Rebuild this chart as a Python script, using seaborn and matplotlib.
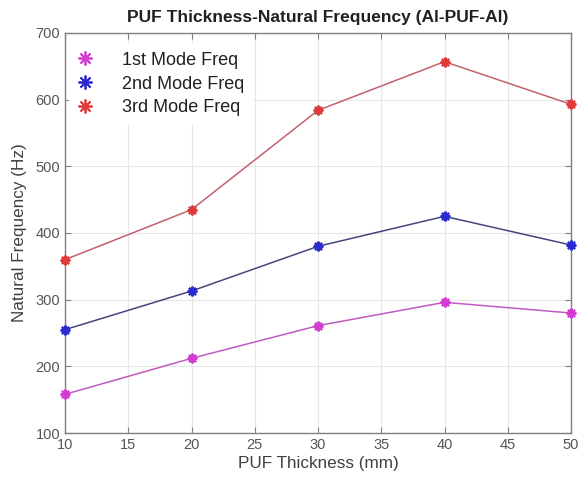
import numpy as np
import pandas as pd
import matplotlib
matplotlib.use("Agg")
import matplotlib.pyplot as plt
from matplotlib.lines import Line2D
import seaborn as sns

thickness = [10, 20, 30, 40, 50]
mode1 = [158, 212, 261, 296, 280]
mode2 = [255, 313, 380, 425, 382]
mode3 = [360, 435, 584, 657, 593]
series_names = ["1st Mode Freq", "2nd Mode Freq", "3rd Mode Freq"]
colors = ["#d23cd2", "#2a2ad0", "#e03a3a"]
line_colors = ["#c05ac0", "#46467e", "#c4606c"]

df = pd.DataFrame({
    "PUF Thickness (mm)": thickness * 3,
    "Natural Frequency (Hz)": mode1 + mode2 + mode3,
    "Mode": [n for n in series_names for _ in thickness],
})

sns.set_style("ticks")
plt.rcParams["font.family"] = ["Liberation Sans", "DejaVu Sans"]

# asterisk marker (plus + cross), 8 spokes
asterisk = (8, 2, 0)

fig = plt.figure(figsize=(5.81, 4.86), dpi=100)
ax = fig.add_axes([65 / 581, 1 - 433 / 486, 506 / 581, 400 / 486])

sns.lineplot(data=df, x="PUF Thickness (mm)", y="Natural Frequency (Hz)",
             hue="Mode", palette=dict(zip(series_names, line_colors)),
             linewidth=1.1, legend=False, ax=ax)
for name, c in zip(series_names, colors):
    sub = df[df["Mode"] == name]
    ax.plot(sub["PUF Thickness (mm)"], sub["Natural Frequency (Hz)"],
            linestyle="none", marker=asterisk, markersize=7,
            markeredgewidth=1.6, color=c, zorder=3, clip_on=False)

ax.set_xlim(10, 50)
ax.set_ylim(100, 700)
ax.set_xticks(np.arange(10, 51, 5))
ax.set_yticks(np.arange(100, 701, 100))
ax.grid(True, color="#e6e6e6", linewidth=0.8)
ax.set_axisbelow(True)
for s in ax.spines.values():
    s.set_color("#808080")
    s.set_linewidth(1.0)
ax.tick_params(direction="in", length=4, color="#808080", labelcolor="#555555",
               labelsize=10.5, top=True, right=True, labeltop=False, labelright=False)
ax.set_xlabel("PUF Thickness (mm)", fontsize=12.3, color="#404040", labelpad=3)
ax.set_ylabel("Natural Frequency (Hz)", fontsize=12.3, color="#404040", labelpad=6)
ax.set_title("PUF Thickness-Natural Frequency (Al-PUF-Al)", fontsize=12.5,
             fontweight="bold", color="#202020", pad=8)

handles = [Line2D([], [], linestyle="none", marker=asterisk, markersize=10,
                  markeredgewidth=1.3, color=c) for c in colors]
leg = ax.legend(handles, series_names, loc="upper left", fontsize=13,
                frameon=True, handletextpad=1.55, borderaxespad=0,
                bbox_to_anchor=(4 / 506, 1 - 11.5 / 400),
                labelspacing=0.38, handlelength=1.0, borderpad=0.4)
leg.get_frame().set_edgecolor("white")
leg.get_frame().set_facecolor("white")
leg.get_frame().set_alpha(1.0)
for t in leg.get_texts():
    t.set_color("#202020")

fig.savefig("out.png", dpi=100)
